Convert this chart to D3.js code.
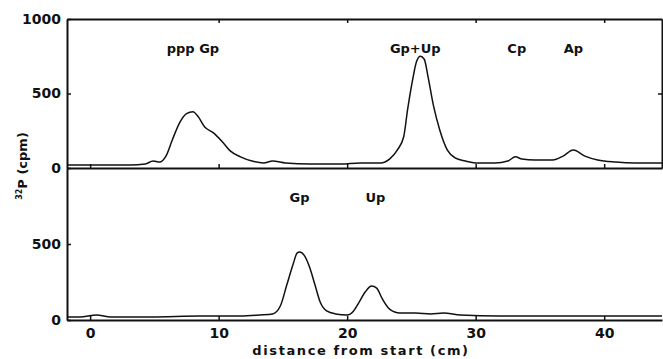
<!DOCTYPE html>
<html>
<head>
<meta charset="utf-8">
<script src="https://cdn.jsdelivr.net/npm/d3@7"></script>
<style>
  body { margin: 0; background: #fff; }
  text { font-family: "DejaVu Sans", sans-serif; font-weight: bold; fill: #111; }
</style>
</head>
<body>
<div id="chart"></div>
<script>
// distance (cm) and counts (cpm)
const topDist = [-1.8, 0.8, 3.1, 4.3, 4.9, 5.4, 5.9, 6.4, 7.0, 7.5, 8.0, 8.4, 8.9, 9.6, 10.3, 10.9, 11.7, 12.6, 13.5, 14.2, 15.2, 17.1, 19.5, 21.0, 22.6, 23.3, 23.9, 24.4, 24.7, 25.1, 25.4, 25.7, 26.0, 26.3, 26.7, 27.2, 27.8, 28.4, 29.2, 30.0, 31.5, 32.5, 33.1, 33.6, 34.6, 36.0, 36.8, 37.6, 38.5, 39.5, 40.9, 42.4, 44.5];
const topCpm = [20, 20, 20, 27, 47, 40, 80, 190, 310, 365, 378, 345, 277, 236, 175, 115, 75, 47, 34, 47, 34, 27, 27, 34, 34, 60, 120, 210, 390, 595, 715, 750, 730, 610, 425, 257, 120, 68, 47, 34, 34, 47, 75, 60, 54, 54, 80, 120, 80, 54, 40, 34, 34];

const botDist = [-1.8, -0.8, 0.5, 1.6, 4.7, 8.6, 11.7, 13.2, 14.2, 14.8, 15.3, 15.8, 16.1, 16.3, 16.7, 17.1, 17.5, 17.9, 18.4, 19.1, 20.0, 20.5, 20.9, 21.4, 21.9, 22.3, 22.7, 23.3, 24.1, 25.3, 26.5, 27.5, 28.8, 31.9, 35.8, 39.7, 44.5];
const botCpm = [20, 20, 33, 20, 20, 26, 26, 33, 40, 92, 230, 368, 440, 447, 420, 342, 230, 118, 60, 40, 33, 60, 112, 184, 224, 210, 145, 72, 46, 46, 40, 46, 33, 26, 26, 26, 26];

const xTicks = [0, 10, 20, 30, 40];
const topYTicks = [0, 500, 1000];
const botYTicks = [0, 500];

const topLabels = [
    { text: "ppp Gp", d: 8.0 },
    { text: "Gp+Up", d: 25.3 },
    { text: "Cp", d: 33.2 },
    { text: "Ap", d: 37.6 }
];
const botLabels = [
    { text: "Gp", d: 16.3 },
    { text: "Up", d: 22.2 }
];

const W = 663, H = 359;
const svg = d3.select("#chart").append("svg")
    .attr("width", W)
    .attr("height", H);

const x = d3.scaleLinear().domain([-1.8, 44.5]).range([67, 662]);
const yTop = d3.scaleLinear().domain([0, 1000]).range([168, 19]);
const yBot = d3.scaleLinear().domain([0, 1000]).range([320, 168]);

function styleAxis(g, size) {
    g.select(".domain").attr("stroke", "#111").attr("stroke-width", 2);
    g.selectAll(".tick line").attr("stroke", "#111").attr("stroke-width", 1.5);
    g.selectAll(".tick text")
        .style("font-size", size + "px")
        .style("font-family", "DejaVu Sans, sans-serif")
        .style("font-weight", "bold")
        .attr("fill", "#111");
}

// Left axes
svg.append("g")
    .attr("transform", `translate(${x.range()[0]},0)`)
    .call(d3.axisLeft(yTop).tickValues(topYTicks).tickFormat(d3.format("d")).tickSize(-4).tickPadding(6).tickSizeOuter(0))
    .call(g => styleAxis(g, 14));

svg.append("g")
    .attr("transform", `translate(${x.range()[0]},0)`)
    .call(d3.axisLeft(yBot).tickValues(botYTicks).tickFormat(d3.format("d")).tickSize(-4).tickPadding(6).tickSizeOuter(0))
    .call(g => styleAxis(g, 14));

// Bottom x axis
svg.append("g")
    .attr("transform", `translate(0,${yBot(0)})`)
    .call(d3.axisBottom(x).tickValues(xTicks).tickSize(-4).tickPadding(8).tickSizeOuter(0))
    .call(g => styleAxis(g, 14));

// Zero line of the top panel (shared border)
svg.append("g")
    .attr("transform", `translate(0,${yTop(0)})`)
    .call(d3.axisBottom(x).tickValues(xTicks).tickSize(-4).tickFormat("").tickSizeOuter(0))
    .call(g => styleAxis(g, 14));

// Top border with ticks pointing in
svg.append("g")
    .attr("transform", `translate(0,${yTop(1000)})`)
    .call(d3.axisTop(x).tickValues(xTicks.slice(1)).tickSize(-4).tickFormat("").tickSizeOuter(0))
    .call(g => styleAxis(g, 14));

// Right border of top panel
svg.append("g")
    .attr("transform", `translate(${x.range()[1]},0)`)
    .call(d3.axisRight(yTop).tickValues([500]).tickSize(-4).tickFormat("").tickSizeOuter(0))
    .call(g => styleAxis(g, 14));

// Traces
const lineTop = d3.line()
    .x((d, i) => x(topDist[i]))
    .y(d => yTop(d))
    .curve(d3.curveMonotoneX);

const lineBot = d3.line()
    .x((d, i) => x(botDist[i]))
    .y(d => yBot(d))
    .curve(d3.curveMonotoneX);

svg.append("path")
    .datum(topCpm)
    .attr("d", lineTop)
    .attr("fill", "none")
    .attr("stroke", "#111")
    .attr("stroke-width", 1.5);

svg.append("path")
    .datum(botCpm)
    .attr("d", lineBot)
    .attr("fill", "none")
    .attr("stroke", "#111")
    .attr("stroke-width", 1.5);

// Peak labels
svg.selectAll(".toplab")
    .data(topLabels)
    .enter()
    .append("text")
    .attr("x", d => x(d.d))
    .attr("y", 53)
    .attr("text-anchor", "middle")
    .style("font-size", "13px")
    .text(d => d.text);

svg.selectAll(".botlab")
    .data(botLabels)
    .enter()
    .append("text")
    .attr("x", d => x(d.d))
    .attr("y", 202)
    .attr("text-anchor", "middle")
    .style("font-size", "13px")
    .text(d => d.text);

// Axis titles
svg.append("text")
    .attr("x", 361)
    .attr("y", 355)
    .attr("text-anchor", "middle")
    .style("font-size", "13px")
    .style("letter-spacing", "1.6px")
    .text("distance from start (cm)");

const yTitle = svg.append("text")
    .attr("transform", "translate(27,166) rotate(-90)")
    .attr("text-anchor", "middle")
    .style("font-size", "13px");
yTitle.append("tspan").attr("dy", -5).style("font-size", "8px").text("32");
yTitle.append("tspan").attr("dy", 5).text("P (cpm)");
</script>
</body>
</html>
